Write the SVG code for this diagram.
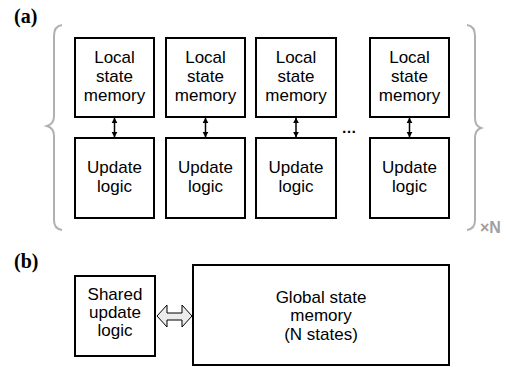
<svg xmlns="http://www.w3.org/2000/svg" width="508" height="367" viewBox="0 0 508 367">
  <style>
    .box { fill: #ffffff; stroke: #000000; stroke-width: 2; }
    .lbl { font-family: "Liberation Sans", Arial, sans-serif; font-size: 17px; fill: #000000; text-anchor: middle; }
    .tag { font-family: "Liberation Serif", "Times New Roman", serif; font-size: 20px; font-weight: bold; fill: #000000; }
    .brace { fill: none; stroke: #b0b0b0; stroke-width: 2; }
    .link { stroke: #000000; stroke-width: 1.5; fill: none; marker-start: url(#head); marker-end: url(#head); }
  </style>
  <defs>
    <marker id="head" viewBox="0 0 10 10" refX="9" refY="5" markerWidth="6" markerHeight="7" orient="auto-start-reverse" markerUnits="userSpaceOnUse">
      <path d="M0,0 L10,5 L0,10 z" fill="#000000"/>
    </marker>
  </defs>

  <!-- panel labels -->
  <text class="tag" x="14" y="23">(a)</text>
  <text class="tag" x="14" y="268">(b)</text>

  <!-- replication braces -->
  <path class="brace" d="M62,25 Q54,26 54,36 L54,116 Q54,124 47,126 Q54,128 54,136 L54,220 Q54,229 62,230"/>
  <path class="brace" d="M467,25 Q475,26 475,36 L475,118 Q475,126 481,128 Q475,130 475,138 L475,220 Q475,229 467,230"/>
  <text x="480" y="233" style="font-family:'Liberation Sans',Arial,sans-serif;font-size:16px;font-weight:bold;fill:#a0a0a0">×N</text>

  <!-- (a) per-state columns -->
  <g id="mem1"><rect class="box" x="75" y="38" width="79" height="79"/>
    <text class="lbl" x="114.5" y="63">Local</text><text class="lbl" x="114.5" y="82">state</text><text class="lbl" x="114.5" y="101">memory</text></g>
  <g id="mem2"><rect class="box" x="166" y="38" width="79" height="79"/>
    <text class="lbl" x="205.5" y="63">Local</text><text class="lbl" x="205.5" y="82">state</text><text class="lbl" x="205.5" y="101">memory</text></g>
  <g id="mem3"><rect class="box" x="256" y="38" width="80" height="79"/>
    <text class="lbl" x="296" y="63">Local</text><text class="lbl" x="296" y="82">state</text><text class="lbl" x="296" y="101">memory</text></g>
  <g id="mem4"><rect class="box" x="370" y="38" width="79" height="79"/>
    <text class="lbl" x="409.5" y="63">Local</text><text class="lbl" x="409.5" y="82">state</text><text class="lbl" x="409.5" y="101">memory</text></g>

  <g id="upd1"><rect class="box" x="75" y="138" width="79" height="80"/>
    <text class="lbl" x="114.5" y="173">Update</text><text class="lbl" x="114.5" y="192">logic</text></g>
  <g id="upd2"><rect class="box" x="166" y="138" width="79" height="80"/>
    <text class="lbl" x="205.5" y="173">Update</text><text class="lbl" x="205.5" y="192">logic</text></g>
  <g id="upd3"><rect class="box" x="256" y="138" width="80" height="80"/>
    <text class="lbl" x="296" y="173">Update</text><text class="lbl" x="296" y="192">logic</text></g>
  <g id="upd4"><rect class="box" x="370" y="138" width="79" height="80"/>
    <text class="lbl" x="409.5" y="173">Update</text><text class="lbl" x="409.5" y="192">logic</text></g>

  <text x="349" y="133" style="font-family:'Liberation Sans',Arial,sans-serif;font-size:15px;font-weight:bold;fill:#000;text-anchor:middle">…</text>

  <!-- (b) shared logic and global memory -->
  <g id="shared"><rect class="box" x="75" y="276" width="80" height="80"/>
    <text class="lbl" x="115" y="300">Shared</text><text class="lbl" x="115" y="318">update</text><text class="lbl" x="115" y="336">logic</text></g>
  <g id="global"><rect class="box" x="193" y="265" width="256" height="100"/>
    <text class="lbl" x="321" y="303">Global state</text><text class="lbl" x="321" y="321">memory</text><text class="lbl" x="321" y="340">(N states)</text></g>

  <!-- connectors -->
  <g id="connectors">
    <line class="link" x1="114.5" y1="118" x2="114.5" y2="137"/>
    <line class="link" x1="205.5" y1="118" x2="205.5" y2="137"/>
    <line class="link" x1="296" y1="118" x2="296" y2="137"/>
    <line class="link" x1="409.5" y1="118" x2="409.5" y2="137"/>
    <path d="M157,316 L167,305 L167,313 L182,313 L182,305 L192,316 L182,327 L182,320 L167,320 L167,327 Z" fill="#ececec" stroke="#000000" stroke-width="1"/>
  </g>
</svg>
